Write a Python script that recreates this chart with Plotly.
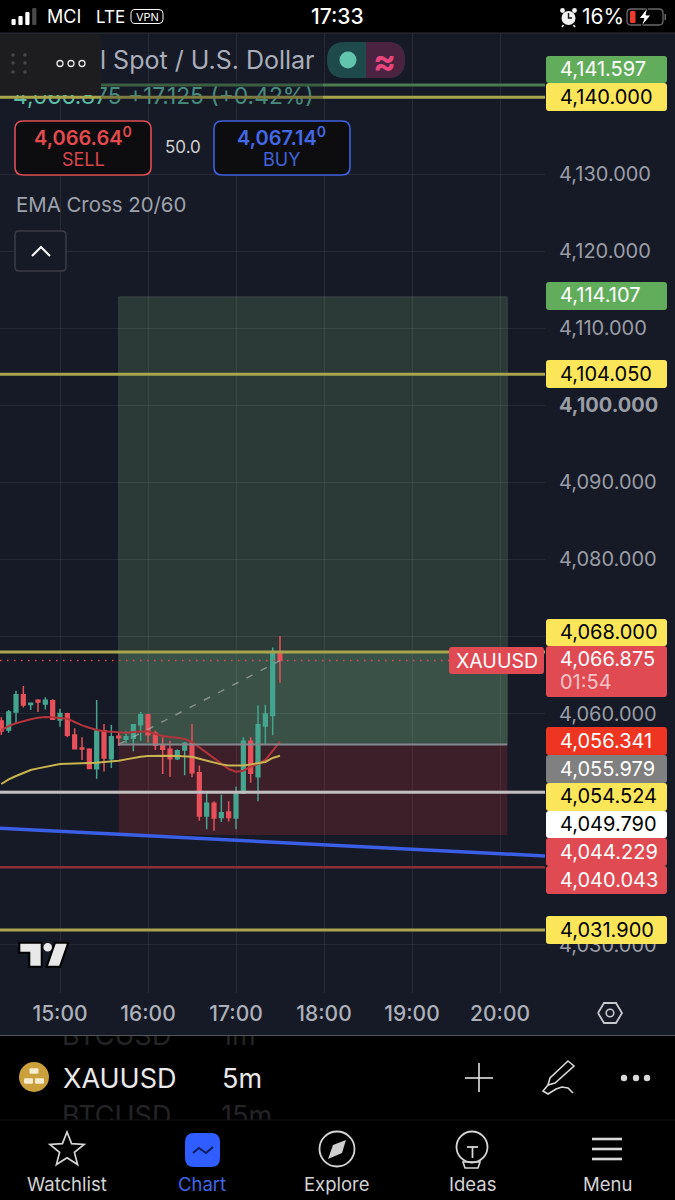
import math
import pandas as pd
import plotly.graph_objects as go

W, H = 675, 1200
DAY = "2025-10-28"
FONT = "Inter"

# ---- 5-minute XAUUSD session ----
opens = [4059.03, 4057.86, 4060.20, 4062.45, 4061.19, 4061.71, 4061.24, 4061.67, 4059.16, 4059.98,
         4057.21, 4055.52, 4055.35, 4052.84, 4057.77, 4054.14, 4057.04, 4056.65, 4056.78, 4058.55,
         4059.85, 4057.43, 4055.87, 4055.35, 4054.14, 4055.26, 4056.13, 4052.32, 4046.70, 4048.34,
         4046.52, 4047.22, 4046.44, 4049.64, 4056.39, 4051.80, 4058.38, 4059.76, 4067.99]
highs = [4059.51, 4060.46, 4062.97, 4063.57, 4061.32, 4061.84, 4062.10, 4061.84, 4060.63, 4060.11,
         4058.08, 4056.91, 4055.48, 4061.76, 4058.64, 4058.55, 4057.60, 4057.73, 4058.64, 4060.20,
         4059.85, 4057.77, 4056.91, 4056.48, 4055.35, 4056.30, 4058.64, 4053.27, 4049.81, 4048.60,
         4049.47, 4048.60, 4050.50, 4056.91, 4056.91, 4061.06, 4061.15, 4068.59, 4070.06]
lows = [4057.21, 4057.51, 4058.64, 4060.80, 4060.46, 4060.20, 4060.54, 4059.25, 4058.29, 4056.91,
        4055.35, 4053.97, 4052.84, 4051.54, 4052.49, 4052.93, 4055.78, 4056.13, 4055.09, 4056.48,
        4056.22, 4055.26, 4052.15, 4051.80, 4053.97, 4051.98, 4051.72, 4046.09, 4044.97, 4044.79,
        4045.92, 4046.00, 4044.97, 4049.55, 4051.02, 4048.60, 4056.04, 4057.17, 4064.01]
closes = [4057.73, 4060.20, 4062.45, 4061.11, 4061.32, 4061.50, 4061.71, 4059.25, 4060.02, 4057.17,
          4055.44, 4055.39, 4052.88, 4057.77, 4054.23, 4057.00, 4056.87, 4057.00, 4058.55, 4059.85,
          4057.25, 4055.87, 4055.35, 4054.14, 4055.18, 4056.13, 4052.32, 4046.70, 4048.34, 4046.44,
          4047.13, 4046.52, 4049.64, 4056.39, 4052.24, 4058.55, 4059.94, 4067.90, 4066.875]
ema_fast = [4057.86, 4058.38, 4058.73, 4059.03, 4059.25, 4059.46, 4059.55, 4059.51, 4059.46, 4059.33,
            4058.90, 4058.47, 4058.16, 4057.86, 4057.69, 4057.60, 4057.51, 4057.51, 4057.60, 4057.69,
            4057.69, 4057.34, 4057.08, 4056.95, 4056.87, 4056.69, 4056.30, 4055.61, 4054.92, 4054.14,
            4053.45, 4052.80, 4052.45, 4052.58, 4053.10, 4053.45, 4053.97, 4055.18, 4056.341]
ema_slow = [4050.85, 4051.46, 4051.89, 4052.32, 4052.67, 4052.88, 4053.10, 4053.32, 4053.45, 4053.49,
            4053.53, 4053.53, 4053.53, 4053.62, 4053.71, 4053.79, 4053.88, 4054.05, 4054.27, 4054.40,
            4054.49, 4054.53, 4054.53, 4054.53, 4054.49, 4054.49, 4054.40, 4054.14, 4053.88, 4053.62,
            4053.40, 4053.27, 4053.23, 4053.27, 4053.40, 4053.53, 4053.71, 4054.23, 4054.524]

# ---- horizontal levels and the long position ----
level_green = 4141.597
levels_yellow = [4140.000, 4104.050, 4068.000, 4031.900]
level_white = 4049.790
level_red = 4040.043
last_price = 4066.875
position_entry = 4055.979
position_target = 4114.107
position_stop = 4044.229
position_progress = 4068.000
trend_prices = [4045.10, 4041.51]

price_ticks = [4030, 4060, 4080, 4090, 4100, 4110, 4120, 4130]
hidden_price_ticks = [4040, 4050, 4070]  # gridlines only; their labels sit behind the price tags
hour_labels = ["15:00", "16:00", "17:00", "18:00", "19:00", "20:00"]


def t(clock):
    return f"{DAY} {clock}"


times = pd.date_range(t("14:20"), periods=len(opens), freq="5min")
X_START, X_END = t("14:19:05"), t("20:30:41")
BOX_START, BOX_END = t("15:40"), t("20:05")

BG = "#161a26"
GRID = "rgba(255,255,255,0.07)"
UP = "#45a58e"
DOWN = "#e8505a"
fig = go.Figure()

fig.add_trace(go.Candlestick(
    x=times, open=opens, high=highs, low=lows, close=closes,
    increasing=dict(line=dict(color=UP, width=1.5), fillcolor=UP),
    decreasing=dict(line=dict(color=DOWN, width=1.5), fillcolor=DOWN),
    whiskerwidth=0, hoverinfo="skip", showlegend=False))
fig.add_trace(go.Scatter(x=times, y=ema_fast, mode="lines", showlegend=False, hoverinfo="skip",
                         line=dict(color="#b3343a", width=2)))
fig.add_trace(go.Scatter(x=times, y=ema_slow, mode="lines", showlegend=False, hoverinfo="skip",
                         line=dict(color="#c9b450", width=2)))
fig.add_trace(go.Scatter(x=[BOX_START, times[-1]], y=[position_entry, last_price], mode="lines",
                         showlegend=False, hoverinfo="skip",
                         line=dict(color="rgba(185,185,185,0.6)", width=1.5, dash="7px,9px")))
fig.add_trace(go.Scatter(x=[X_START, X_END], y=trend_prices, mode="lines", showlegend=False,
                         hoverinfo="skip", line=dict(color="#3a5fe6", width=3.5)))

# Text clipped by the band it sits in: the symbol list scrolling behind the toolbar
fig.add_trace(go.Scatter(x=[62, 221, 62, 221], y=[1038, 1038, 1118, 1118],
                         text=["BTCUSD", "1m", "BTCUSD", "15m"], mode="text",
                         textposition="middle right", xaxis="x2", yaxis="y2", showlegend=False,
                         hoverinfo="skip", textfont=dict(family=FONT, size=27, color="#242426")))
# Quote line beneath the legend panel
fig.add_trace(go.Scatter(x=[13], y=[98], text=["4,066.875 +17.125 (+0.42%)"], mode="text",
                         textposition="middle right", xaxis="x3", yaxis="y3", showlegend=False,
                         hoverinfo="skip", textfont=dict(family=FONT, size=22.8, color="#5cbca5")))

shapes = []
annotations = []


def px(x):
    return x / W


def py(y):
    return 1 - y / H


def pth(points, close=True):
    s = "M" + " L".join(f"{px(x):.5f},{py(y):.5f}" for x, y in points)
    return s + (" Z" if close else "")


def round_rect(x0, y0, x1, y1, r=3):
    c = lambda x, y: f"{px(x):.5f},{py(y):.5f}"
    return (f"M{c(x0 + r, y0)} L{c(x1 - r, y0)} Q{c(x1, y0)} {c(x1, y0 + r)} "
            f"L{c(x1, y1 - r)} Q{c(x1, y1)} {c(x1 - r, y1)} L{c(x0 + r, y1)} "
            f"Q{c(x0, y1)} {c(x0, y1 - r)} L{c(x0, y0 + r)} Q{c(x0, y0)} {c(x0 + r, y0)} Z")


def path_shape(path, fill="rgba(0,0,0,0)", line=None, width=0, layer="above"):
    shapes.append(dict(type="path", path=path, xref="paper", yref="paper", layer=layer,
                       fillcolor=fill, line=dict(color=line or "rgba(0,0,0,0)", width=width)))


def rect(x0, y0, x1, y1, fill, r=0, line=None, width=0, layer="above"):
    if r:
        path_shape(round_rect(x0, y0, x1, y1, r), fill, line, width, layer)
    else:
        shapes.append(dict(type="rect", xref="paper", yref="paper", x0=px(x0), x1=px(x1),
                           y0=py(y0), y1=py(y1), fillcolor=fill, layer=layer,
                           line=dict(color=line or "rgba(0,0,0,0)", width=width)))


def circle(cx, cy, r, fill="rgba(0,0,0,0)", line=None, width=0):
    shapes.append(dict(type="circle", xref="paper", yref="paper", layer="above",
                       x0=px(cx - r), x1=px(cx + r), y0=py(cy - r), y1=py(cy + r), fillcolor=fill,
                       line=dict(color=line or "rgba(0,0,0,0)", width=width)))


def seg(points, color, width=1.5):
    path_shape(pth(points, close=False), "rgba(0,0,0,0)", color, width)


def label(x, y, s, size=20, color="#ffffff", anchor="center", weight=None):
    font = dict(family=FONT, size=size, color=color)
    if weight:
        font["weight"] = weight
    annotations.append(dict(x=px(x), y=py(y), xref="paper", yref="paper", text=s, showarrow=False,
                            xanchor=anchor, yanchor="middle", font=font, borderpad=0))


def level(value, color, width=3, dash="solid"):
    shapes.append(dict(type="line", xref="x domain", yref="y", x0=0, x1=1, y0=value, y1=value,
                       layer="above", line=dict(color=color, width=width, dash=dash)))


def box(y0, y1, fill, edge="rgba(0,0,0,0)"):
    shapes.append(dict(type="rect", xref="x", yref="y", x0=BOX_START, x1=BOX_END, y0=y0, y1=y1,
                       layer="below", fillcolor=fill, line=dict(color=edge, width=1)))


# Chart canvas
rect(0, 33, W, 1035, BG, layer="below")

# Long position tool
box(position_entry, position_target, "rgba(105,146,105,0.26)", "rgba(120,150,120,0.25)")
box(position_entry, position_progress, "rgba(90,139,105,0.30)")
box(position_stop, position_entry, "rgba(117,41,48,0.40)")
shapes.append(dict(type="line", xref="x", yref="y", x0=BOX_START, x1=BOX_END, y0=position_entry,
                   y1=position_entry, layer="above", line=dict(color="#85868c", width=2)))

# Horizontal levels
level(level_green, "#4c7c50")
for v in levels_yellow:
    level(v, "#a8a54c")
level(level_white, "#c2bebf")
level(level_red, "#8a3036", 2.5)
level(last_price, "#e2474f", 1.5, "1.5px,5.5px")

# Legend strip dimming what runs behind it
rect(101, 80, 323, 106, "rgba(22,26,38,0.30)")

# Legend panel and grip
path_shape(round_rect(-8, 33, 101, 95, 8), "#1d1d20")
for gx in (13, 25):
    for gy in (55, 63, 72):
        circle(gx, gy, 1.8, "#46484c")
for gx in (60, 71, 82):
    circle(gx, 63.5, 3, "rgba(0,0,0,0)", "#e6e6e6", 1.3)

label(99, 60, "l Spot / U.S. Dollar", 25, "#a9aeba", "left")

# Market status pill
path_shape(round_rect(327, 42, 405, 78, 18), "#1f4a4b")
path_shape(f"M{px(366):.5f},{py(42):.5f} L{px(387):.5f},{py(42):.5f} "
           f"Q{px(405):.5f},{py(42):.5f} {px(405):.5f},{py(60):.5f} "
           f"Q{px(405):.5f},{py(78):.5f} {px(387):.5f},{py(78):.5f} "
           f"L{px(366):.5f},{py(78):.5f} Z", "#4a2340")
circle(348, 60, 8.5, "#62c4ad")
label(384, 60, "<b>≈</b>", 34, "#e8457f")

# Sell / buy buttons
rect(15, 121, 151, 175, "#0d0d10", 8, "#e04e52", 1.6)
rect(214, 121, 350, 175, "#0d0d10", 8, "#3f62e0", 1.6)
label(83, 137, "4,066.64<sup>0</sup>", 20, "#e24a4e", weight=600)
label(83, 160, "SELL", 18, "#d9454a")
label(281, 137, "4,067.14<sup>0</sup>", 20, "#4468e8", weight=600)
label(281, 160, "BUY", 18, "#4062d8")
label(183, 147, "50.0", 17, "#d0d0d0")
label(14.5, 204, "EMA Cross 20/60", 20.4, "#9ea2ac", "left")
rect(15, 231, 66, 271, "#161a26", 4, "#3a3d47", 1.5)
seg([(32, 256), (41, 247), (50, 256)], "#f2f2f2", 2.2)

# Price tags on the scale: value, band, fill, ink
tags = [
    ("4,141.597", 56, 83, "#62ad5c", "#ffffff"),
    ("4,140.000", 83, 111, "#fbe65a", "#000000"),
    ("4,114.107", 282, 310, "#62ad5c", "#ffffff"),
    ("4,104.050", 360, 388, "#fbe65a", "#000000"),
    ("4,068.000", 619, 646, "#fbe65a", "#000000"),
    ("4,056.341", 727, 755, "#ee3522", "#ffffff"),
    ("4,055.979", 755, 783, "#808080", "#ffffff"),
    ("4,054.524", 783, 811, "#fbe65a", "#000000"),
    ("4,049.790", 811, 838, "#ffffff", "#000000"),
    ("4,044.229", 838, 866, "#e04a52", "#ffffff"),
    ("4,040.043", 866, 894, "#e04a52", "#ffffff"),
    ("4,031.900", 916, 944, "#fbe65a", "#000000"),
]
rect(546, 646, 667, 697, "#e04a52", 3)
label(558.5, 659, f"{last_price:,.3f}", 20, "#ffffff", "left")
label(558.5, 682, "01:54", 20, "#f6c4c6", "left")
rect(449, 647, 544, 674, "#e04a52", 3)
label(496.5, 660.5, "XAUUSD", 19.5, "#ffffff")
for text, y0, y1, fill, ink in tags:
    rect(546, y0, 667, y1, fill, 3)
    label(558.5, (y0 + y1) / 2 - 0.5, text, 20, ink, "left")

# TradingView mark
logo_edge = "#000000"
path_shape(pth([(19.3, 942.7), (41.7, 942.7), (41.7, 966.7), (29.3, 966.7), (29.3, 952.7), (19.3, 952.7)]),
           "#e8e8e8", logo_edge, 2)
path_shape(pth([(55, 942.7), (68.3, 942.7), (60, 966.7), (46.7, 966.7)]), "#e8e8e8", logo_edge, 2)
circle(47.7, 947.3, 4.3, "#e8e8e8")

# Hexagon button on the time scale
seg([(598, 1013), (604, 1003), (616, 1003), (622, 1013), (616, 1023), (604, 1023), (598, 1013)], "#c6c8ce", 1.8)
circle(610, 1013, 3.8, "rgba(0,0,0,0)", "#c6c8ce", 1.6)
seg([(0, 1035.5), (W, 1035.5)], "#54565c", 1.2)
seg([(0, 33), (W, 33)], "#2b2e38", 1.2)

# Status bar
for i, h in enumerate((6, 9, 13, 17)):
    rect(11.5 + i * 6.9, 25 - h, 15.7 + i * 6.9, 25, "#ffffff" if i < 3 else "#4a4a4a", 1)
label(46, 17, "MCI", 18, "#ffffff", "left")
label(95, 17, "LTE", 17, "#ffffff", "left")
rect(131, 9.5, 163, 23.5, "rgba(0,0,0,0)", 4, "#ffffff", 1)
label(147, 16.5, "VPN", 11, "#ffffff")
label(337, 17, "17:33", 21, "#ffffff", weight=500)
circle(568.5, 18, 7, "#f2f2f2")
circle(562.5, 10.5, 2.4, "#f2f2f2")
circle(574.5, 10.5, 2.4, "#f2f2f2")
seg([(568.5, 13), (568.5, 18), (572, 18)], "#111111", 1.4)
seg([(563.5, 25), (562, 27)], "#f2f2f2", 1.5)
seg([(573.5, 25), (575, 27)], "#f2f2f2", 1.5)
label(603, 17, "16%", 21, "#ffffff")
rect(627, 9, 663, 25, "rgba(0,0,0,0)", 4, "#6a6a6a", 1.3)
rect(630, 11, 635.5, 23, "#ee3b2f", 1.5)
rect(664.5, 14, 666, 20, "#6a6a6a")
path_shape(pth([(648, 7), (639, 18.5), (644, 18.5), (641, 27), (651, 15), (646, 15)]), "#ffffff", "#000000", 1)

# Symbol toolbar
seg([(0, 1120), (W, 1120)], "#151517", 1)
circle(34, 1077, 15, "#c9a03c")
for bx, by in ((34, 1071), (28.5, 1081), (39.5, 1081)):
    rect(bx - 4.5, by - 2.8, bx + 4.5, by + 2.8, "#f6ecd2", 1.2)
label(62, 1078, "XAUUSD", 27, "#e9e9e9", "left")
label(221, 1078, "5m", 27, "#e9e9e9", "left")
seg([(465, 1078), (493, 1078)], "#e2e2e2", 1.6)
seg([(479, 1063), (479, 1092)], "#e2e2e2", 1.6)
path_shape(pth([(568, 1061), (574, 1066), (555, 1083), (548, 1085), (550, 1078)]),
           "rgba(0,0,0,0)", "#d8d8d8", 1.6)
seg([(548, 1085), (543, 1091), (548, 1094), (556, 1089), (562, 1087), (568, 1088), (573, 1093)], "#d8d8d8", 1.6)
for dx in (624, 636, 647):
    circle(dx, 1078, 3.2, "#d8d8d8")

# Tab bar
cx, cy = 67, 1150
star = []
for k in range(10):
    rad = 18 if k % 2 == 0 else 7.8
    ang = math.pi * k / 5 - math.pi / 2
    star.append((cx + rad * math.cos(ang), cy + rad * math.sin(ang)))
path_shape(pth(star), "rgba(0,0,0,0)", "#d6d6d6", 1.7)
rect(185, 1133, 220, 1167, "#2f5dff", 9)
seg([(193, 1153), (199, 1148), (206, 1153), (213, 1147)], "#0f1e5c", 2)
circle(337, 1149, 17.5, "rgba(0,0,0,0)", "#d6d6d6", 1.8)
path_shape(pth([(346, 1140), (342, 1153), (328, 1159), (333, 1145)]), "#cfcfcf")
circle(472, 1147, 15.5, "rgba(0,0,0,0)", "#d6d6d6", 1.8)
seg([(467, 1147), (478, 1147)], "#d6d6d6", 1.8)
seg([(472.5, 1147), (472.5, 1158)], "#d6d6d6", 1.8)
path_shape(pth([(463, 1162), (480, 1162), (478, 1168), (465, 1168)]), "rgba(0,0,0,0)", "#d6d6d6", 1.6)
for my in (1139, 1149, 1159):
    seg([(592, my), (622, my)], "#d8d8d8", 2.6)
for lx, name, col in ((67, "Watchlist", "#d4d4d4"), (202, "Chart", "#4166e8"), (337, "Explore", "#d4d4d4"),
                      (472, "Ideas", "#d4d4d4"), (607, "Menu", "#d4d4d4")):
    label(lx, 1184, name, 18.5, col)

tick_times = [t(h) for h in hour_labels]
tick_text = [f"<b>{p:,.3f}</b>" if p == 4100 else f"{p:,.3f}" for p in price_ticks]

fig.update_layout(
    width=W, height=H, autosize=False, margin=dict(l=0, r=0, t=0, b=0),
    paper_bgcolor="#000000", plot_bgcolor="rgba(0,0,0,0)", showlegend=False,
    boxgap=0.28, shapes=shapes, annotations=annotations,
    xaxis=dict(domain=[0, 545 / W], range=[X_START, X_END], type="date", anchor="y",
               rangeslider=dict(visible=False), tickvals=tick_times, ticktext=hour_labels,
               gridcolor=GRID, gridwidth=1, showline=False, zeroline=False, ticks="",
               ticklabelstandoff=6, tickangle=0,
               tickfont=dict(family=FONT, size=21, color="#adb0ba", weight=500)),
    yaxis=dict(domain=[(H - 993) / H, (H - 33) / H], range=[4023.72, 4148.35], side="right", anchor="x",
               tickvals=price_ticks, ticktext=tick_text, gridcolor=GRID, gridwidth=1, showline=False,
               zeroline=False, ticks="", ticklabelstandoff=13,
               minor=dict(tickvals=hidden_price_ticks, showgrid=True, gridcolor=GRID, gridwidth=1, ticks=""),
               tickfont=dict(family=FONT, size=20, color="#9a9da6")),
    xaxis2=dict(domain=[0, 1], range=[0, W], visible=False, anchor="y2", fixedrange=True),
    yaxis2=dict(domain=[(H - 1120) / H, (H - 1036) / H], range=[1120, 1036], visible=False,
                anchor="x2", fixedrange=True),
    xaxis3=dict(domain=[0, 1], range=[0, W], visible=False, anchor="y3", fixedrange=True),
    yaxis3=dict(domain=[(H - 130) / H, (H - 70) / H], range=[130, 70], visible=False,
                anchor="x3", fixedrange=True),
)

fig.write_html("out.html", config=dict(displayModeBar=False))
